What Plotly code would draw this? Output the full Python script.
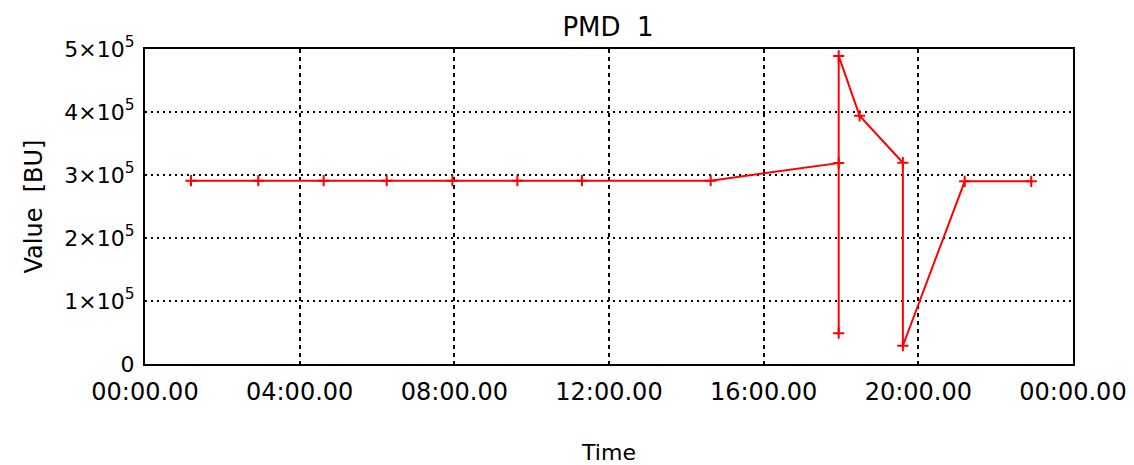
import plotly.graph_objects as go

# --- data ---
time_hours = [1.19, 2.93, 4.62, 6.25, 7.95, 9.63, 11.30, 14.63,
              17.94, 17.94, 17.94, 18.48, 19.60, 19.60, 21.20, 22.92]
values_bu = [2.91e5, 2.91e5, 2.91e5, 2.91e5, 2.91e5, 2.91e5, 2.91e5, 2.91e5,
             3.19e5, 0.49e5, 4.89e5, 3.94e5, 3.195e5, 0.29e5, 2.90e5, 2.90e5]

x_tickvals = [0, 4, 8, 12, 16, 20, 24]
x_ticktext = ["00:00.00", "04:00.00", "08:00.00", "12:00.00",
              "16:00.00", "20:00.00", "00:00.00"]
y_tickvals = [0, 1e5, 2e5, 3e5, 4e5, 5e5]
y_ticktext = ["0", "1×10<sup>5</sup>", "2×10<sup>5</sup>", "3×10<sup>5</sup>",
              "4×10<sup>5</sup>", "5×10<sup>5</sup>"]

FONT = "DejaVu Sans"
W, H = 1126, 457  # page body adds an 8px offset
L, R, T, B = 137, 61, 41, 101
PW = W - L - R

fig = go.Figure()
fig.add_trace(go.Scatter(
    x=time_hours, y=values_bu, mode="lines+markers",
    line=dict(color="#ff0000", width=2),
    marker=dict(symbol="cross-thin", size=8, line=dict(color="#ff0000", width=2)),
    showlegend=False,
))

fig.update_layout(
    width=W, height=H,
    margin=dict(l=L, r=R, t=T, b=B, autoexpand=False),
    paper_bgcolor="white", plot_bgcolor="white",
    font=dict(family=FONT, size=22, color="black"),
    title=dict(text="PMD  1", x=(608 - 8) / W, xanchor="center", y=1 - 19 / H, yanchor="middle",
               font=dict(family=FONT, size=26, color="black")),
    annotations=[dict(
        text="Value  [BU]", textangle=-90, xref="paper", yref="paper",
        x=(33 - 145) / PW, y=0.5, xanchor="center", yanchor="middle",
        showarrow=False, font=dict(family=FONT, size=24, color="black"),
    )],
)
fig.update_xaxes(
    range=[0, 24], tickvals=x_tickvals, ticktext=x_ticktext, automargin=False,
    showline=True, linecolor="black", linewidth=2, mirror=True,
    showgrid=True, gridcolor="black", gridwidth=2, griddash="4px,4px",
    zeroline=False, ticks="", ticklabelstandoff=5,
    tickfont=dict(family=FONT, size=24),
    title=dict(text="Time", standoff=40, font=dict(family=FONT, size=22)),
)
fig.update_yaxes(
    range=[0, 5e5], tickvals=y_tickvals, ticktext=y_ticktext, automargin=False,
    showline=True, linecolor="black", linewidth=2, mirror=True,
    showgrid=True, gridcolor="black", gridwidth=1.5, griddash="2px,4px",
    zeroline=False, ticks="", ticklabelstandoff=4,
    tickfont=dict(family=FONT, size=22),
)

fig.write_html("out.html")
